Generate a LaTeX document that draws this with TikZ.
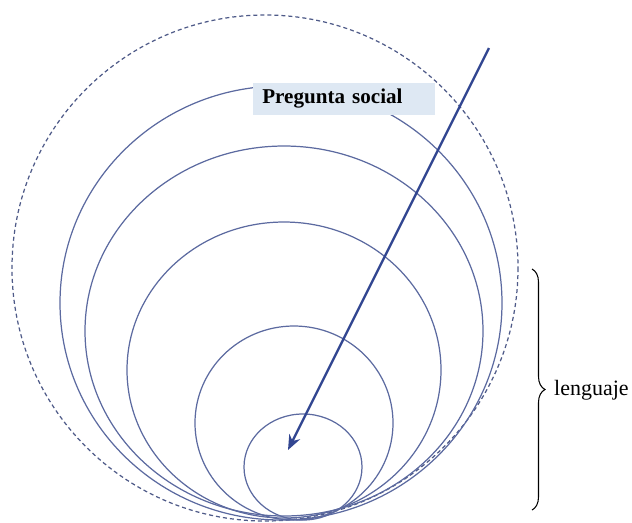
\documentclass[tikz,border=0pt]{standalone}
\usepackage{fontspec}
\setmainfont{Liberation Serif}
\usetikzlibrary{arrows.meta,decorations.pathreplacing}
\definecolor{ring}{RGB}{92,106,160}
\definecolor{navy}{RGB}{50,70,145}
\definecolor{labelblue}{RGB}{222,232,243}

\begin{document}
\begin{tikzpicture}[x=0.02cm,y=-0.02cm, ringline/.style={ring,line width=0.7pt}, outer/.style={ring!85!black,line width=0.7pt,dash pattern=on 2.3pt off 1.7pt}, arr/.style={-{Stealth[length=3mm,width=2.4mm]},line width=1.3pt,navy}, tag/.style={fill=labelblue,anchor=west,inner xsep=0.18cm,text width=3.28cm,minimum height=0.64cm,font=\fontsize{12}{14}\selectfont\bfseries}, bracetext/.style={anchor=west,font=\fontsize{12.5}{14}\selectfont}]
  \useasboundingbox (0,0) rectangle (632,522);
  \draw[outer] (265,268) circle [radius=253];
  \draw[ringline] (281,303) ellipse [x radius=221, y radius=217];
  \draw[ringline] (284,331) ellipse [x radius=199, y radius=185];
  \draw[ringline] (284,370) ellipse [x radius=157, y radius=148];
  \draw[ringline] (294,423) ellipse [x radius=99, y radius=97];
  \draw[ringline] (303,467) ellipse [x radius=59, y radius=53];
  \node[tag] (question) at (253,99) {Pregunta social};
  \coordinate (start) at (489,48);
  \coordinate (focus) at (288,450);
  \draw[arr] (start) -- (focus);
  \coordinate (btop) at (532,269);
  \coordinate (bbot) at (532,510);
  \draw[decorate,decoration={brace,amplitude=0.26cm},line width=0.6pt] (btop) -- (bbot);
  \node[bracetext] (lang) at (548,390) {lenguaje};
\end{tikzpicture}
\end{document}
